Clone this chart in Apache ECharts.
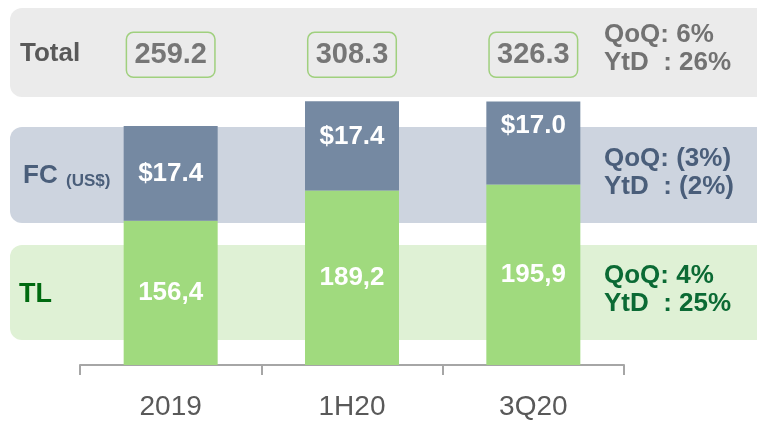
<!DOCTYPE html>
<html>
<head>
<meta charset="utf-8">
<script src="https://cdn.jsdelivr.net/npm/echarts@6/dist/echarts.min.js"></script>
<style>
  html, body { margin: 0; padding: 0; background: #fff; }
  #main { width: 757px; height: 421px; }
</style>
</head>
<body>
<div id="main"></div>
<script>
var periods = ['2019', '1H20', '3Q20'];
var totals = [259.2, 308.3, 326.3];
var tlValues = [156.4, 189.2, 195.9];
var fcUsd = [17.4, 17.4, 17.0];
// FC segment heights as drawn in the picture, in the same units as TL
var fcBarHeight = [103, 97, 90];
var rowNames = ['Total', 'FC', 'TL'];
var qoq = ['6%', '(3%)', '4%'];
var ytd = ['26%', '(2%)', '25%'];

var FONT = '"Liberation Sans", Arial, sans-serif';
var Y_MAX = 396;
var TOTAL_ROW = 336.5;          // y level (axis units) of the total boxes
var fcNudge = [0, -9, -17];     // label shift inside FC segments

var myChart = echarts.init(document.getElementById('main'));

function band(y, h, color) {
    return {
        type: 'rect', z: -10,
        shape: { x: 10, y: y, width: 770, height: h, r: 12 },
        style: { fill: color }
    };
}
function sideText(x, y, txt, color, size) {
    return {
        type: 'text', z: 5, x: x, y: y,
        style: {
            text: txt, fill: color, font: 'bold ' + (size || 26) + 'px ' + FONT,
            lineHeight: 28, verticalAlign: 'middle'
        }
    };
}

var option = {
    animation: false,
    grid: { left: 80, right: 133, top: 0, bottom: 55 },
    xAxis: {
        type: 'category',
        data: periods,
        axisLine: { lineStyle: { color: '#a6a6a6', width: 2 } },
        axisTick: { show: true, alignWithLabel: false, length: 10, lineStyle: { color: '#a6a6a6', width: 2 } },
        axisLabel: { margin: 28, fontSize: 28, color: '#595959', fontFamily: FONT }
    },
    yAxis: { type: 'value', min: 0, max: Y_MAX, show: false, splitLine: { show: false } },
    series: [
        {
            name: 'TL', type: 'bar', stack: 'a', barWidth: 94,
            itemStyle: { color: '#a0da7e' },
            label: {
                show: true, position: 'inside', color: '#fff',
                fontSize: 26, fontWeight: 'bold', fontFamily: FONT,
                formatter: function (p) { return tlValues[p.dataIndex].toFixed(1).replace('.', ','); }
            },
            data: tlValues
        },
        {
            name: 'FC', type: 'bar', stack: 'a', barWidth: 94,
            itemStyle: { color: '#7589a2' },
            label: {
                show: true, position: 'inside', color: '#fff',
                fontSize: 26, fontWeight: 'bold', fontFamily: FONT,
                formatter: function (p) { return '$' + fcUsd[p.dataIndex].toFixed(1); }
            },
            data: fcBarHeight.map(function (v, i) {
                return { value: v, label: { offset: [0, fcNudge[i]] } };
            })
        },
        {
            name: 'Total', type: 'scatter', symbolSize: 0,
            label: {
                show: true, position: 'inside',
                color: '#595959', fontSize: 29, fontWeight: 'bold', fontFamily: FONT,
                borderColor: '#8dc963', borderWidth: 1.5, borderRadius: 7,
                padding: [9, 8, 7, 8],
                formatter: function (p) { return totals[p.dataIndex].toFixed(1); }
            },
            data: totals.map(function (v, i) { return [periods[i], TOTAL_ROW]; })
        }
    ],
    graphic: [
        band(8, 89, '#ebebeb'),
        band(127, 96, '#cdd4df'),
        band(245, 95, '#dff1d5'),
        sideText(20, 54, rowNames[0], '#595959'),
        sideText(23, 176, rowNames[1], '#4a5e7a'),
        sideText(66, 181, '(US$)', '#4a5e7a', 17),
        sideText(19, 295, rowNames[2], '#006a10', 27),
        sideText(604, 49, 'QoQ: ' + qoq[0] + '\nYtD  : ' + ytd[0], '#727272'),
        sideText(604, 173, 'QoQ: ' + qoq[1] + '\nYtD  : ' + ytd[1], '#4a5e7a'),
        sideText(604, 290, 'QoQ: ' + qoq[2] + '\nYtD  : ' + ytd[2], '#0b6a34')
    ]
};

myChart.setOption(option);
</script>
</body>
</html>
